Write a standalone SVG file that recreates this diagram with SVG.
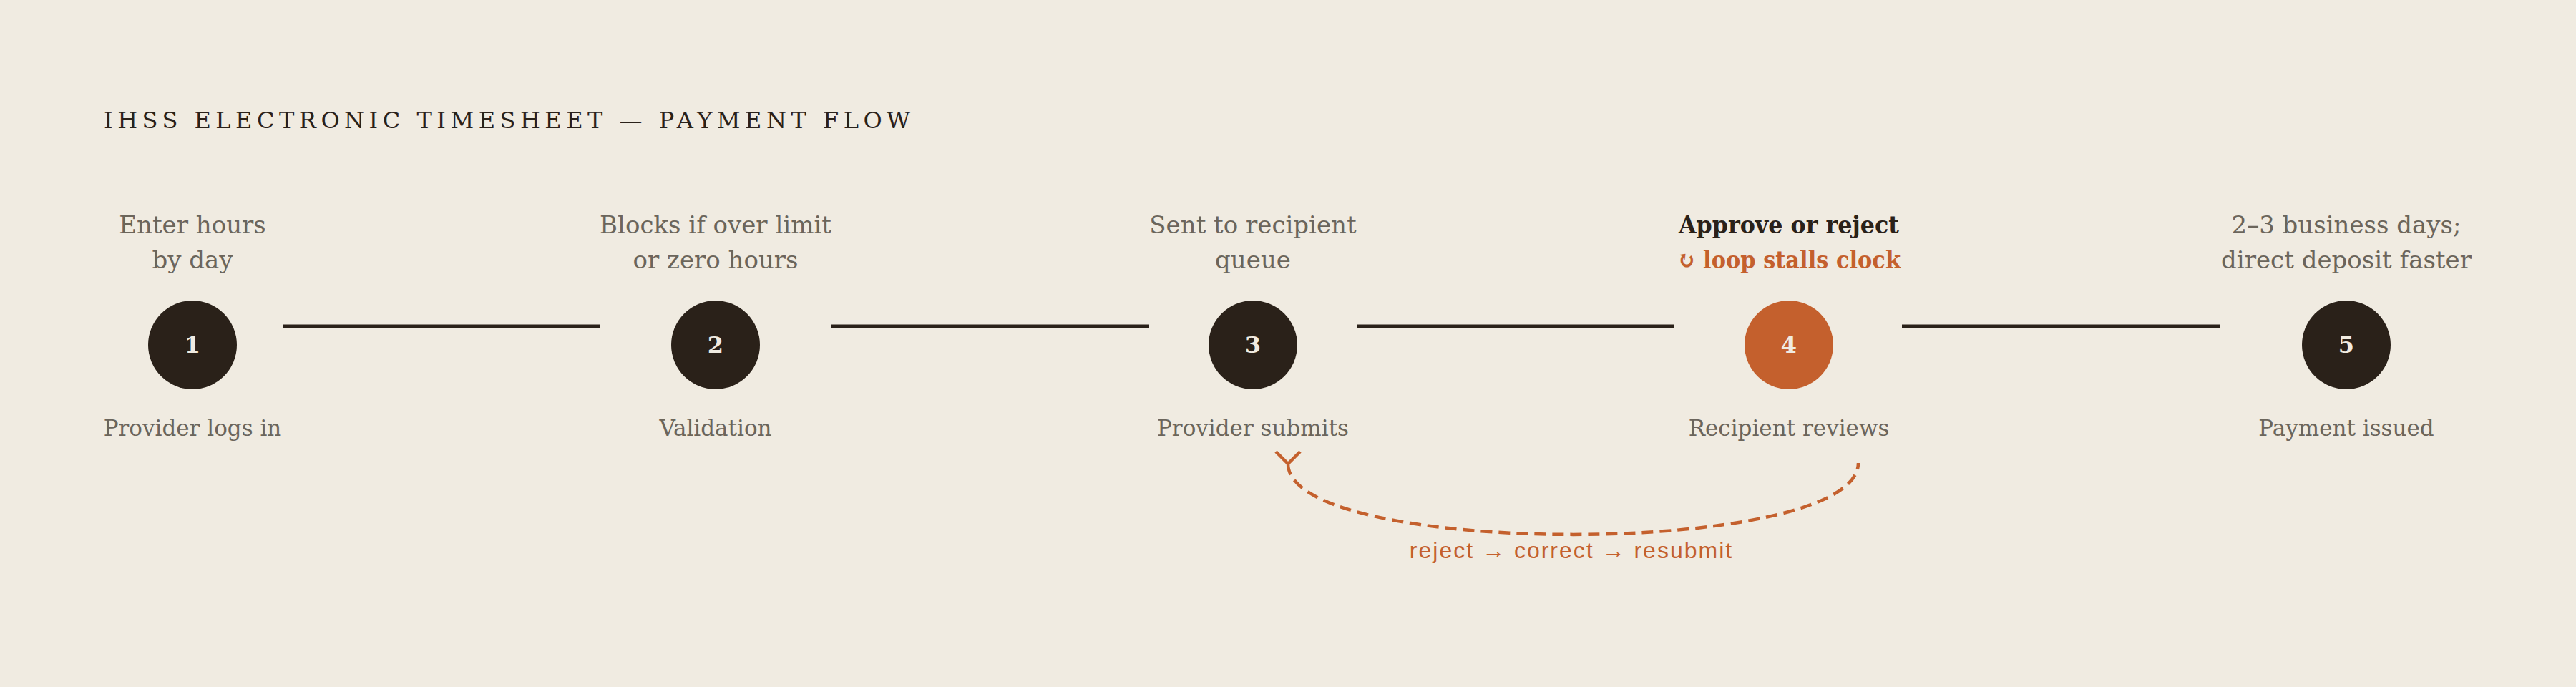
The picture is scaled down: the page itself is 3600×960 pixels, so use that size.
<svg xmlns="http://www.w3.org/2000/svg" width="3600" height="960" viewBox="0 0 3600 960">
<style>
.bg{fill:#f0ebe1}
.title{font-family:"DejaVu Serif","Liberation Serif",serif;font-size:32px;fill:#2a2119}
.top{font-family:"DejaVu Serif","Liberation Serif",serif;font-size:34px;fill:#6b655b;text-anchor:middle}
.bot{font-family:"DejaVu Serif","Liberation Serif",serif;font-size:31px;fill:#6b655b;text-anchor:middle}
.strong{font-family:"DejaVu Serif","Liberation Serif",serif;font-size:34px;font-weight:bold;fill:#2a2119;text-anchor:middle}
.warn{font-family:"DejaVu Serif","Liberation Serif",serif;font-size:34px;font-weight:bold;fill:#c4602d;text-anchor:middle}
.num{font-family:"DejaVu Serif","Liberation Serif",serif;font-size:32px;font-weight:bold;fill:#f0ebe1;text-anchor:middle}
.dot{fill:#2a2119}
.dot.hl{fill:#c4602d}
.conn{stroke:#2a2119;stroke-width:5;fill:none}
.loop{stroke:#c4602d;stroke-width:4.5;fill:none;stroke-dasharray:16 9}
.looplabel{font-family:"Liberation Sans",Arial,sans-serif;font-size:32px;letter-spacing:2px;fill:#c4602d;text-anchor:middle}
</style>
<defs>
<marker id="chev" markerUnits="userSpaceOnUse" markerWidth="40" markerHeight="40" viewBox="0 0 40 40" refX="20" refY="20" orient="auto" overflow="visible">
<path d="M3,3 L20,20 L3,37" fill="none" stroke="#c4602d" stroke-width="4.5"/>
</marker>
</defs>
<rect class="bg" x="0" y="0" width="3600" height="960"/>
<text id="title" class="title" x="145" y="179" textLength="1127" lengthAdjust="spacing">IHSS ELECTRONIC TIMESHEET — PAYMENT FLOW</text>
<g id="connectors">
<line class="conn" x1="395" y1="456" x2="839" y2="456"/>
<line class="conn" x1="1161" y1="456" x2="1606" y2="456"/>
<line class="conn" x1="1896" y1="456" x2="2340" y2="456"/>
<line class="conn" x1="2658" y1="456" x2="3102" y2="456"/>
<path class="loop" d="M1800 648 C 1800 780, 2597 780, 2597 647" marker-start="url(#chev)"/>
<text class="looplabel" x="2196" y="780">reject → correct → resubmit</text>
</g>
<g id="node-1">
<text class="top" x="269" y="326">Enter hours</text>
<text class="top" x="269" y="375">by day</text>
<circle class="dot" cx="269" cy="482" r="62"/>
<text class="num" x="269" y="493">1</text>
<text class="bot" x="269" y="609">Provider logs in</text>
</g>
<g id="node-2">
<text class="top" x="1000" y="326">Blocks if over limit</text>
<text class="top" x="1000" y="375">or zero hours</text>
<circle class="dot" cx="1000" cy="482" r="62"/>
<text class="num" x="1000" y="493">2</text>
<text class="bot" x="1000" y="609">Validation</text>
</g>
<g id="node-3">
<text class="top" x="1751" y="326">Sent to recipient</text>
<text class="top" x="1751" y="375">queue</text>
<circle class="dot" cx="1751" cy="482" r="62"/>
<text class="num" x="1751" y="493">3</text>
<text class="bot" x="1751" y="609">Provider submits</text>
</g>
<g id="node-4">
<text class="strong" x="2500" y="326" textLength="308" lengthAdjust="spacingAndGlyphs">Approve or reject</text>
<text class="warn" x="2500" y="375" textLength="312" lengthAdjust="spacingAndGlyphs">↻ loop stalls clock</text>
<circle class="dot hl" cx="2500" cy="482" r="62"/>
<text class="num" x="2500" y="493">4</text>
<text class="bot" x="2500" y="609">Recipient reviews</text>
</g>
<g id="node-5">
<text class="top" x="3279" y="326">2–3 business days;</text>
<text class="top" x="3279" y="375">direct deposit faster</text>
<circle class="dot" cx="3279" cy="482" r="62"/>
<text class="num" x="3279" y="493">5</text>
<text class="bot" x="3279" y="609">Payment issued</text>
</g>
</svg>
